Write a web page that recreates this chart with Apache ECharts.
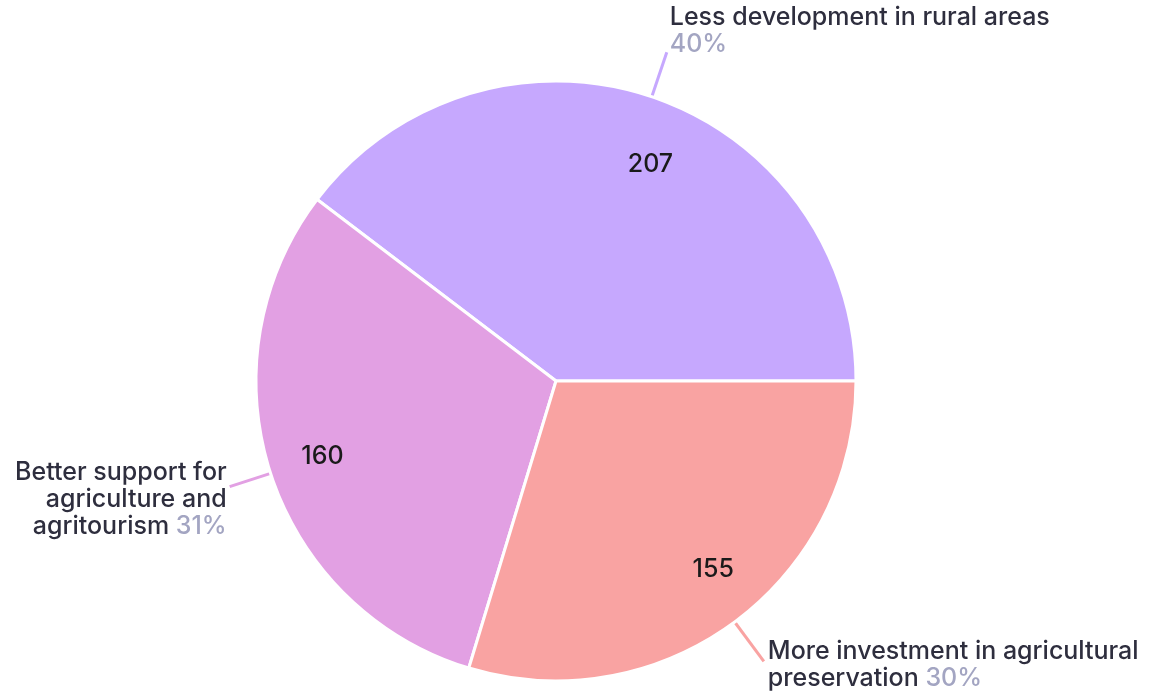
<!DOCTYPE html>
<html>
<head>
<meta charset="utf-8">
<script src="https://cdn.jsdelivr.net/npm/echarts@6/dist/echarts.min.js"></script>
<style>
html,body{margin:0;padding:0;background:#fff;}
#chart{width:1157px;height:695px;}
</style>
</head>
<body>
<div id="chart"></div>
<script>
const categories = ['Less development in rural areas', 'Better support for agriculture and agritourism', 'More investment in agricultural preservation'];
const labelLines = ['Less development in rural areas\n', 'Better support for\nagriculture and\nagritourism ', 'More investment in agricultural\npreservation '];
const values = [207, 160, 155];
const colors = ['#c6a8fe', '#e2a0e3', '#f9a3a2'];

const total = values.reduce((a, b) => a + b, 0);
const FONT = 'Inter, "Noto Sans", sans-serif';
const lineLength = [47, 43, 49];
const outerShift = [[0, -21], [0, 13], [1, 4]];
const innerShift = [[16, 16], [0, 0], [11, -9]];

const chart = echarts.init(document.getElementById('chart'));
chart.setOption({
  animation: false,
  series: [
    {
      type: 'pie',
      center: [556, 381],
      radius: [0, 300],
      startAngle: 0,
      clockwise: false,
      avoidLabelOverlap: false,
      itemStyle: { borderColor: '#fff', borderWidth: 3 },
      label: {
        show: true,
        position: 'outside',
        fontFamily: FONT,
        fontSize: 25,
        fontWeight: 500,
        lineHeight: 27,
        color: '#2e2e3e',
        distanceToLabelLine: 3,
        formatter: p => labelLines[p.dataIndex] + '{p|' + Math.round(p.value / total * 100) + '%}',
        rich: { p: { color: '#a3a5c2', fontFamily: FONT, fontSize: 25, fontWeight: 500, lineHeight: 27 } }
      },
      labelLine: { show: true, length: 47, length2: 0, smooth: false, lineStyle: { width: 3 } },
      labelLayout: p => ({ dx: outerShift[p.dataIndex][0], dy: outerShift[p.dataIndex][1] }),
      data: categories.map((c, i) => ({
        name: c, value: values[i],
        itemStyle: { color: colors[i] },
        labelLine: { length: lineLength[i] }
      }))
    },
    {
      type: 'pie',
      center: [556, 381],
      radius: [185, 300],
      startAngle: 0,
      clockwise: false,
      silent: true,
      itemStyle: { color: 'transparent', borderWidth: 0 },
      label: {
        show: true,
        position: 'inside',
        fontFamily: FONT,
        fontSize: 25,
        fontWeight: 500,
        color: '#1a1a1a',
        formatter: p => String(p.value)
      },
      labelLine: { show: false },
      labelLayout: p => ({ dx: innerShift[p.dataIndex][0], dy: innerShift[p.dataIndex][1] }),
      data: categories.map((c, i) => ({ name: c, value: values[i] }))
    }
  ]
});
</script>
</body>
</html>
